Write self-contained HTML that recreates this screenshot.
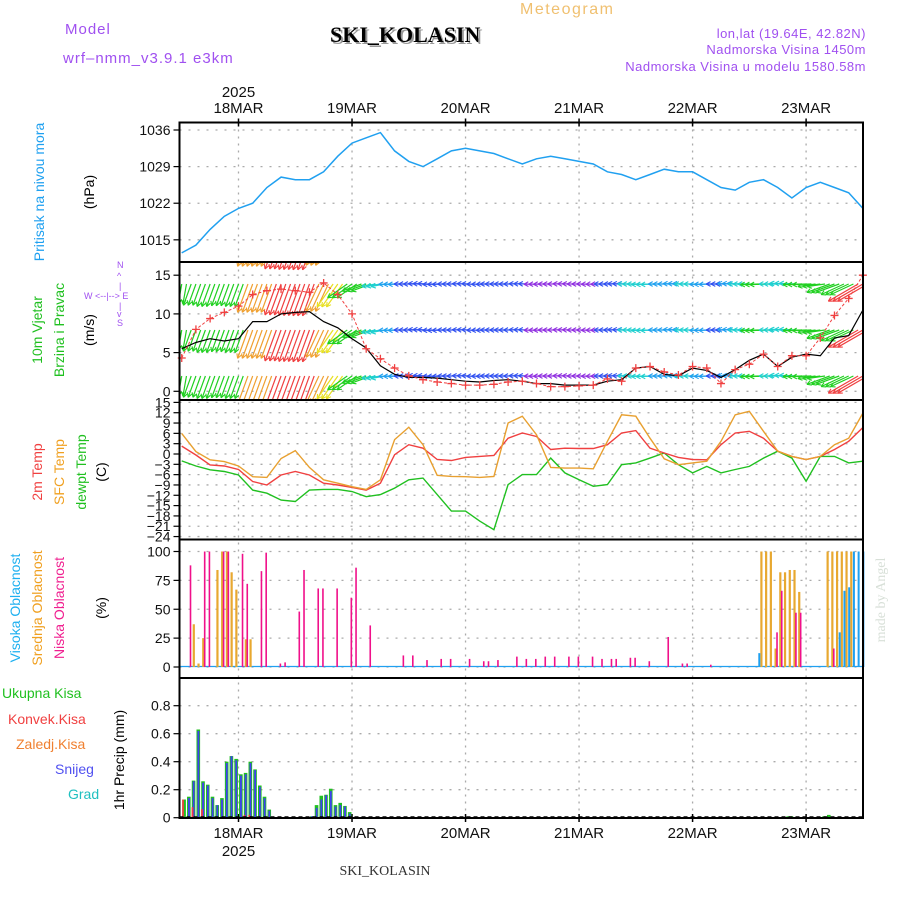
<!DOCTYPE html>
<html><head><meta charset="utf-8"><style>
body{margin:0;background:#fff}
svg{display:block;font-family:"Liberation Sans",sans-serif}
</style></head><body>
<svg id="c" width="900" height="900" viewBox="0 0 900 900" xmlns="http://www.w3.org/2000/svg">
<defs><clipPath id="wclip"><rect x="180" y="263" width="683" height="136"/></clipPath></defs>
<rect width="900" height="900" fill="#fff"/>
<text x="65" y="34" font-size="15" fill="#a050f0" letter-spacing="1">Model</text>
<text x="63" y="63" font-size="15" fill="#a050f0" letter-spacing="1">wrf–nmm_v3.9.1  e3km</text>
<text x="520" y="14" font-size="16" fill="#f0c070" letter-spacing="1.5">Meteogram</text>
<text x="332" y="44" font-size="22" font-weight="bold" fill="#999" font-family="Liberation Serif,serif">SKI_KOLASIN</text>
<text x="330" y="42" font-size="22" font-weight="bold" fill="#000" font-family="Liberation Serif,serif">SKI_KOLASIN</text>
<g font-size="13" fill="#a050f0" text-anchor="end" letter-spacing="0.5">
<text x="866" y="38">lon,lat (19.64E, 42.82N)</text>
<text x="866" y="54">Nadmorska Visina 1450m</text>
<text x="866" y="71">Nadmorska Visina u modelu 1580.58m</text>
</g>
<text x="385" y="875" font-size="14" font-family="Liberation Serif,serif" fill="#333" text-anchor="middle">SKI_KOLASIN</text>
<text transform="translate(885,600) rotate(-90)" font-size="14" fill="#d8e0d8" font-family="Liberation Serif,serif" text-anchor="middle">made by Angel</text>

<g font-size="14" text-anchor="middle">
<text transform="translate(44,192) rotate(-90)" fill="#1ea0f0">Pritisak na nivou mora</text>
<text transform="translate(94,192) rotate(-90)" fill="#000">(hPa)</text>
<text transform="translate(42,330) rotate(-90)" fill="#20c020">10m Vjetar</text>
<text transform="translate(64,330) rotate(-90)" fill="#20c020">Brzina i Pravac</text>
<text transform="translate(94,330) rotate(-90)" fill="#000">(m/s)</text>
<text transform="translate(42,472) rotate(-90)" fill="#f04040">2m Temp</text>
<text transform="translate(64,472) rotate(-90)" fill="#f0a020">SFC Temp</text>
<text transform="translate(86,472) rotate(-90)" fill="#20c020">dewpt Temp</text>
<text transform="translate(106,472) rotate(-90)" fill="#000">(C)</text>
<text transform="translate(20,608) rotate(-90)" fill="#1eb0f0">Visoka Oblacnost</text>
<text transform="translate(42,608) rotate(-90)" fill="#f0a020">Srednja Oblacnost</text>
<text transform="translate(64,608) rotate(-90)" fill="#f02090">Niska Oblacnost</text>
<text transform="translate(106,608) rotate(-90)" fill="#000">(%)</text>
<text transform="translate(124,760) rotate(-90)" fill="#000">1hr Precip (mm)</text>
</g>
<g font-size="14">
<text x="2" y="698" fill="#20c020">Ukupna Kisa</text>
<text x="8" y="724" fill="#f04040">Konvek.Kisa</text>
<text x="16" y="749" fill="#f08030">Zaledj.Kisa</text>
<text x="55" y="774" fill="#5050f0">Snijeg</text>
<text x="68" y="799" fill="#20c0c0">Grad</text>
</g>
<g font-size="9" fill="#a050f0">
<text x="117" y="268">N</text><text x="117" y="279">^</text><text x="119" y="289">|</text>
<text x="84" y="299">W  &lt;--|--&gt;  E</text>
<text x="119" y="309">|</text><text x="117" y="317">v</text><text x="117" y="326">S</text>
</g>
<g id="grid"></g>
<g id="marks"></g>
<g id="frames"></g>
</svg>
<script>
// ---- data ----
const hours3 = [-12,-9,-6,-3,0,3,6,9,12,15,18,21,24,27,30,33,36,39,42,45,48,51,54,57,60,63,66,69,72,75,78,81,84,87,90,93,96,99,102,105,108,111,114,117,120,123,126,129,132];
const pressure = [1012.5,1014,1017,1019.5,1021,1022,1025,1027,1026.5,1026.5,1028,1031,1033.5,1034.5,1035.5,1032,1030,1029,1030.5,1032,1032.5,1032,1031.5,1030.5,1029.5,1030.5,1031,1030.5,1030,1029.5,1028,1027.5,1026.5,1027.5,1028.5,1028,1028,1026.5,1025,1024.5,1026,1026.5,1025,1023,1025,1026,1025,1024,1021];
const windSpeed = [5.5,6.3,6.8,6.5,6.8,9,9,10,10.2,10.3,9,8.2,6.8,5.6,3.3,2.2,1.8,1.8,1.7,1.5,1.3,1.2,1.4,1.5,1.3,1.0,1.0,0.8,0.8,0.8,1.3,1.5,3.0,3.2,2.2,2.0,3.0,2.7,1.8,2.8,4.0,4.8,3.2,4.4,4.8,4.6,6.9,7.2,10.5];
const windGust = [4.3,8,9.4,10.2,11,12.5,13,13.2,13,12.8,14,12.5,10,5.5,4.2,3,2,1.5,1.2,1.0,0.8,0.8,0.9,1.2,1.3,1.0,0.6,0.6,0.7,0.8,1.6,1.3,3.0,3.2,2.5,2.1,3.2,3.0,1.0,2.8,3.5,4.8,3.2,4.6,4.6,6.9,9.8,12,15];
const windDirTo = [190,200,200,200,200,200,200,200,200,200,205,215,235,250,260,268,270,272,268,270,272,268,270,270,272,268,270,272,270,268,270,272,270,268,270,272,270,268,270,272,270,268,270,272,268,262,250,245,240];
const tempSfc = [6,0.7,-1.7,-2.2,-3.5,-6.6,-6.8,-1.3,1,-3.9,-7.5,-8.5,-9.5,-10.3,-7.5,4.2,7.8,2.7,-6.2,-6.5,-6.6,-6.8,-6.5,9,11,5.6,-3.9,-4.1,-4.1,-4.3,3.7,11.4,11,4.6,-1.4,-3.1,-2.6,-2.1,3.7,11.4,12.4,6.6,0.8,-0.7,-1.6,-0.7,2.7,4.6,11.9];
const temp2m = [2.3,-0.3,-3.2,-3.5,-4.5,-8,-9,-6.1,-5.1,-6.1,-8.5,-9,-9.7,-10.5,-8.5,-0.2,2.7,1.7,-1.6,-1.9,-1,-0.7,-0.4,4.6,6.1,5.1,1.3,1.7,1.6,1.6,2.7,6.1,6.8,1.7,0.3,-1,-1.6,-1.7,2.7,6.1,6.6,4.6,0.8,-0.7,-1.6,-0.7,1.3,3.7,7.7];
const dewpt = [-2,-3.5,-4.6,-5.1,-6.1,-10.5,-11.4,-13.4,-13.8,-10.5,-10.3,-10.3,-10.9,-12.4,-11.8,-9.9,-7.5,-7,-11.8,-16.6,-16.6,-19.5,-22,-8.9,-6,-6,-1.2,-5.5,-7.5,-9.4,-8.9,-3.1,-2.6,-1.2,0.3,-3.1,-5.5,-3.6,-5.5,-4.5,-3.6,-1.2,0.8,-1.2,-7.9,-0.7,-0.7,-2.6,-2.1];
const lowHours = [-10,-7,-6,-3,-2,1,2,5,6,9,10,13,14,17,18,21,24,25,28,35,37,40,43,45,49,52,53,55,59,61,63,65,67,70,72,75,77,79,80,83,84,87,91,94,95,100,114,115,118,119,126];
const lowPct = [88,100,100,100,100,98,72,83,99,3,4,48,84,68,68,68,60,86,36,10,10,6,7,7,7,5,5,6,9,7,7,9,9,9,9,9,7,7,7,8,8,5,26,3,3,2,30,66,47,47,16];
const midHours = [-10,-9,-8,-5,-4,-3,-2,-1,1,2,110,111,112,113,114,115,116,117,118,124,125,126,127,128,129];
const midPct = [37,3,25,84,100,100,82,67,24,24,100,100,100,16,82,82,84,84,65,100,100,100,100,100,100];
const highHours = [110,127,128,129,130,131,132];
const highPct = [12,30,66,69,100,100,100];
const precipHours = [-11.5,-10.5,-9.5,-8.5,-7.5,-6.5,-5.5,-4.5,-3.5,-2.5,-1.5,-0.5,0.5,1.5,2.5,3.5,4.5,5.5,6.5,15.5,16.5,17.5,18.5,19.5,20.5,21.5,22.5,23.5,116.2,116.9,123.8,124.8];
const precipTotal = [0.13,0.15,0.265,0.63,0.26,0.236,0.15,0.09,0.14,0.40,0.44,0.42,0.31,0.32,0.40,0.345,0.23,0.15,0.058,0.01,0.09,0.157,0.164,0.207,0.09,0.106,0.084,0.04,0.01,0.01,0.01,0.02];
const precipSnow = [0,0.14,0.26,0.62,0.25,0.23,0.14,0.09,0.13,0.39,0.44,0.41,0.30,0.31,0.39,0.34,0.22,0.14,0.05,0.01,0.07,0.13,0.16,0.19,0.08,0.09,0.08,0.03,0,0,0,0];
const precipConv = [0.13,0,0.075,0,0.06,0,0,0,0,0,0,0,0,0.02,0.02,0,0,0,0,0,0,0,0,0,0,0,0,0,0,0,0,0];
const dayLabels = ["18MAR","19MAR","20MAR","21MAR","22MAR","23MAR"];
const pressureTicks = [1015,1022,1029,1036];
const windTicks = [0,5,10,15];
const tempTicks = [15,12,9,6,3,0,-3,-6,-9,-12,-15,-18,-21,-24];
const cloudTicks = [0,25,50,75,100];
const precipTicks = [0,0.2,0.4,0.6,0.8];

// ---- axes ----
const L=179.5,R=863;
const xH = h => 238.5 + h*4.73;
const yP = p => 130 + (1036-p)*5.23;
const yW = s => 391.3 - s*7.74;
const yT = t => 454 - t*3.44;
const yC = c => 667 - c*1.155;
const yR = v => 817.7 - v*140;
const panels=[[122.5,262],[262,400],[400,539.5],[539.5,678],[678,818]];

const NS="http://www.w3.org/2000/svg";
const grid=document.getElementById('grid'), marks=document.getElementById('marks'), frames=document.getElementById('frames');
function mk(tag,attrs,parent){const e=document.createElementNS(NS,tag);for(const k in attrs)e.setAttribute(k,attrs[k]);parent.appendChild(e);return e;}

dayLabels.forEach((d,i)=>{
  const x=xH(24*i);
  const ln=mk('line',{x1:x,x2:x,y1:122.5,y2:818,stroke:'#aaa','stroke-width':1.3,'stroke-dasharray':'2,5'},grid);
  
  
  const t=mk('text',{x:x,y:113,'font-size':15,'text-anchor':'middle',fill:'#111'},grid);
  t.textContent=d;
  
  
  const b=mk('text',{x:x,y:838,'font-size':15,'text-anchor':'middle',fill:'#111'},grid);
  b.textContent=d;
  
  
  [122.5,818].forEach(yy=>{mk('line',{x1:x,x2:x,y1:yy-4,y2:yy+4,stroke:'#000','stroke-width':1.5},grid);});
});
[[xH(0),97],[xH(0),856]].forEach(([x,y])=>{const t=mk('text',{x:x,y:y,'font-size':15,'text-anchor':'middle',fill:'#111'},grid);t.textContent='2025';});

function yTicks(ticks,fy,name,fmt){
  ticks.forEach(v=>{
    const y=fy(v);
    const g=mk('line',{x1:L,x2:R,y1:y,y2:y,stroke:'#aaa','stroke-width':1.3,'stroke-dasharray':'2,7'},grid);
    
    
    mk('line',{x1:L-6,x2:L,y1:y,y2:y,stroke:'#000','stroke-width':1.2},grid);
    const t=mk('text',{x:L-9,y:y+5,'font-size':14,'text-anchor':'end',fill:'#111'},grid);
    t.textContent=fmt?fmt(v):String(v).replace('-','−');
    
    
  });
}
yTicks(pressureTicks,yP,'pressure');
yTicks(windTicks,yW,'wind');
yTicks(tempTicks,yT,'temp');
yTicks(cloudTicks,yC,'cloud');
yTicks(precipTicks,yR,'precip',v=>v===0?'0':String(v));

function pathOf(vals,fy){return vals.map((v,i)=>(i?'L':'M')+xH(hours3[i]).toFixed(1)+','+fy(v).toFixed(1)).join(' ');}

const pl=mk('path',{d:pathOf(pressure,yP),fill:'none',stroke:'#20a0f0','stroke-width':1.5},marks);



function windColor(s){
  if(s<1.2)return '#9030e0'; if(s<2)return '#3050f0'; if(s<3)return '#20a0f0'; if(s<4.5)return '#20d0d0';
  if(s<8)return '#20d020'; if(s<9)return '#e8e020'; if(s<10)return '#f0a030'; if(s<11.5)return '#f04040'; return '#f02080';
}
const wg=mk('g',{'clip-path':'url(#wclip)'},marks);


const rows=[238,284,330,376];
hours3.forEach((h,i)=>{
  const s=windSpeed[i], len=5+2.8*s, a=windDirTo[i]*Math.PI/180;
  const dx=Math.sin(a)*len, dy=-Math.cos(a)*len;
  const col=windColor(s);
  [-1,0,1].forEach(off=>{
    rows.forEach(ry=>{
      const x0=xH(h+off), x1=x0+dx, y1=ry+dy;
      const ar=mk('line',{x1:x0,y1:ry,x2:x1,y2:y1,stroke:col,'stroke-width':1.2},wg);
      
      
      const ang=Math.atan2(dy,dx);
      [0.5,-0.5].forEach(o=>mk('line',{x1:x1,y1:y1,x2:x1-5*Math.cos(ang+o),y2:y1-5*Math.sin(ang+o),stroke:col,'stroke-width':1.1},wg));
    });
  });
});
const ws=mk('path',{d:pathOf(windSpeed,yW),fill:'none',stroke:'#000','stroke-width':1.2},marks);


const gp=mk('path',{d:pathOf(windGust,yW),fill:'none',stroke:'#f04040','stroke-width':1,'stroke-dasharray':'3,2'},marks);


windGust.forEach((v,i)=>{
  const x=xH(hours3[i]),y=yW(v);
  const c=mk('path',{d:`M${x-4},${y}H${x+4}M${x},${y-4}V${y+4}`,stroke:'#f04040','stroke-width':1.3},marks);
  
  
});

[[dewpt,'#20c020','dewpoint-line'],[temp2m,'#f04040','temp-2m-line'],[tempSfc,'#e8a030','sfc-temp-line']].forEach(([vals,col,n])=>{
  const p=mk('path',{d:pathOf(vals,yT),fill:'none',stroke:col,'stroke-width':1.4},marks);
  
  
});

mk('line',{x1:L,x2:R,y1:666.5,y2:666.5,stroke:'#20a0f0','stroke-width':1.2},marks);
midHours.forEach((h,i)=>{
  const r=mk('rect',{x:xH(h)+1.5,y:yC(midPct[i]),width:2.2,height:667-yC(midPct[i]),fill:'#e8a830'},marks);
  
  
});
highHours.forEach((h,i)=>{
  const r=mk('rect',{x:xH(h)-0.5,y:yC(highPct[i]),width:2,height:667-yC(highPct[i]),fill:'#1ea0f0'},marks);
  
  
});
lowHours.forEach((h,i)=>{
  const r=mk('rect',{x:xH(h)-1.5,y:yC(lowPct[i]),width:1.6,height:667-yC(lowPct[i]),fill:'#f0108a'},marks);
  
  
});

precipHours.forEach((h,i)=>{
  const x=xH(h);
  const g=mk('rect',{x:x-1.8,y:yR(precipTotal[i]),width:3.6,height:817.7-yR(precipTotal[i]),fill:'#20c020'},marks);
  
  
  if(precipSnow[i]>0){
    const b=mk('rect',{x:x-0.8,y:yR(precipSnow[i]),width:1.8,height:817.7-yR(precipSnow[i]),fill:'#4040f0'},marks);
    
    
  }
  if(precipConv[i]>0){
    const c=mk('rect',{x:x-2,y:yR(precipConv[i]),width:1.8,height:817.7-yR(precipConv[i]),fill:'#f04040'},marks);
    
    
  }
});
mk('line',{x1:L,x2:R,y1:817,y2:817,stroke:'#000','stroke-width':1.5,'stroke-dasharray':'4,3'},marks);

panels.forEach(([t,b],i)=>{
  const r=mk('rect',{x:L,y:t,width:R-L,height:b-t,fill:'none',stroke:'#000','stroke-width':2},frames);
  
  
});
</script>
</body></html>
